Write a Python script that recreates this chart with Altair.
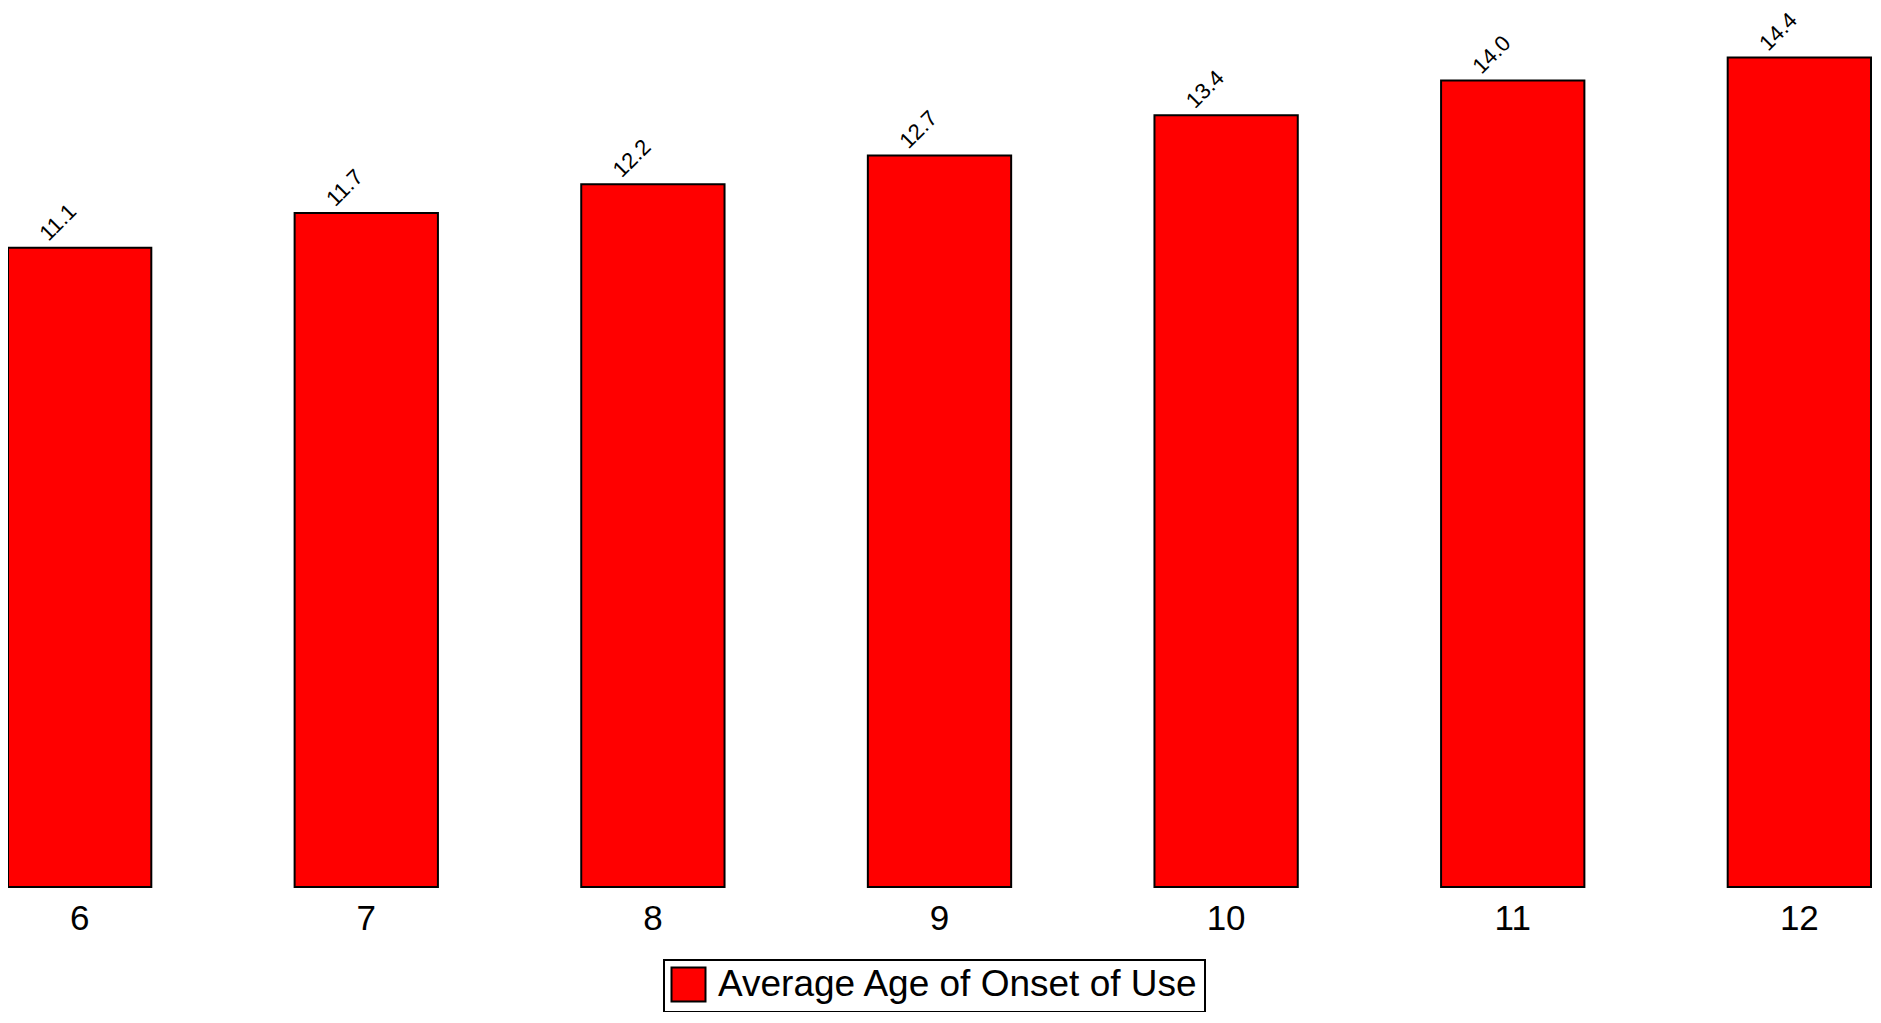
import altair as alt
import pandas as pd

grades = ["6", "7", "8", "9", "10", "11", "12"]
onset_age = [11.1, 11.7, 12.2, 12.7, 13.4, 14.0, 14.4]
series_name = "Average Age of Onset of Use"

df = pd.DataFrame({
    "grade": grades,
    "age": onset_age,
    "series": [series_name] * len(grades),
})

FONT = "Liberation Sans"
NBSP2 = "\u00a0\u00a0"

x = alt.X(
    "grade:O",
    sort=grades,
    scale=alt.Scale(paddingInner=0.5, paddingOuter=0),
    axis=alt.Axis(title=None, labelAngle=0, domain=False, ticks=False, grid=False,
                  labelFontSize=35, labelFont=FONT, labelColor="black", labelPadding=14),
)
y = alt.Y("age:Q", scale=alt.Scale(domain=[0, 15], nice=False, zero=True), axis=None)

bars = alt.Chart(df).mark_bar(stroke="black", strokeWidth=2, opacity=1).encode(
    x=x,
    y=y,
    color=alt.Color(
        "series:N",
        scale=alt.Scale(range=["#ff0000"]),
        legend=alt.Legend(
            title=None, orient="none", legendX=656, legendY=937,
            symbolType="square", symbolSize=1156, symbolStrokeColor="black",
            symbolStrokeWidth=2, symbolOpacity=1,
            labelFontSize=37, labelFont=FONT, labelColor="black", labelLimit=1000,
            labelOffset=11, padding=6, strokeColor="black", fillColor="white",
            labelExpr="datum.label + '" + NBSP2 + "'",
        ),
    ),
)

labels = alt.Chart(df).mark_text(
    angle=315, align="left", baseline="alphabetic", dx=-18, dy=-26,
    fontSize=22, font=FONT, color="black",
).encode(x=x, y=y, text=alt.Text("age:Q", format=".1f"))

chart = (bars + labels).properties(
    width=1863, height=864,
    autosize=alt.AutoSizeParams(type="none"),
    padding={"left": 0, "top": 15, "right": 2, "bottom": 125},
).configure_view(stroke=None).configure_legend(strokeWidth=2)

chart.save("out.html", embed_options={"renderer": "svg", "actions": False})
